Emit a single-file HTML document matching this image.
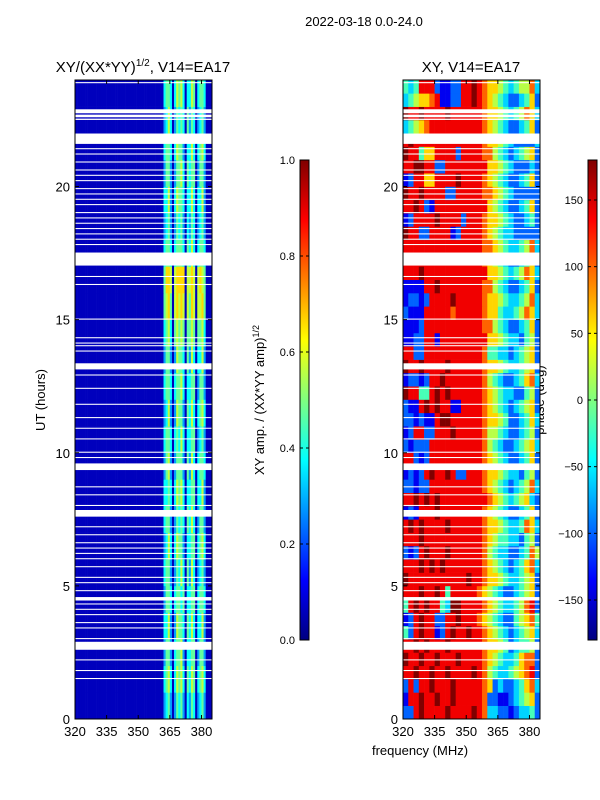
<!DOCTYPE html>
<html><head><meta charset="utf-8"><style>
body{margin:0;background:#fff;}
svg{display:block;font-family:"Liberation Sans",sans-serif;}
</style></head><body>
<svg id="fig" width="600" height="800" xmlns="http://www.w3.org/2000/svg">
<defs>
<linearGradient id="jet" x1="0" y1="1" x2="0" y2="0">
<stop offset="0" stop-color="#000080"/><stop offset="0.125" stop-color="#0000ff"/><stop offset="0.375" stop-color="#00ffff"/><stop offset="0.625" stop-color="#ffff00"/><stop offset="0.875" stop-color="#ff0000"/><stop offset="1" stop-color="#800000"/>
</linearGradient>
</defs>
<text x="364" y="26" font-size="13" text-anchor="middle">2022-03-18 0.0-24.0</text>
<text x="143" y="72" font-size="15" text-anchor="middle">XY/(XX*YY)<tspan font-size="10" dy="-6">1/2</tspan><tspan dy="6">, V14=EA17</tspan></text>
<text x="471" y="72" font-size="15" text-anchor="middle">XY, V14=EA17</text>
<text transform="translate(45,400) rotate(-90)" font-size="13" text-anchor="middle">UT (hours)</text>
<text x="420" y="755" font-size="13" text-anchor="middle">frequency (MHz)</text>
<text transform="translate(264,400) rotate(-90)" font-size="13" text-anchor="middle">XY amp. / (XX*YY amp)<tspan font-size="9" dy="-5">1/2</tspan></text>
<text transform="translate(544,400) rotate(-90)" font-size="13" text-anchor="middle">phase (deg)</text>
<g id="g"></g>
</svg>
<script>
const xTicks=[320,335,350,365,380];
const yTicks=[0,5,10,15,20];
const ampTicks=[0.0,0.2,0.4,0.6,0.8,1.0];
const phaseTicks=[-150,-100,-50,0,50,100,150];
const gaps=[[23.88,23.92],[22.75,22.9],[22.6,22.7],[22.5,22.55],[21.6,21.99],[21.4,21.44],[21.2,21.24],[20.9,20.94],[20.6,20.64],[20.4,20.44],[20.2,20.24],[19.9,19.94],[19.7,19.74],[19.5,19.54],[19.3,19.34],[19.0,19.04],[18.8,18.84],[18.6,18.64],[18.4,18.44],[18.2,18.24],[18.0,18.04],[17.8,17.84],[17.03,17.52],[16.6,16.64],[16.3,16.34],[15.0,15.04],[14.3,14.34],[14.1,14.14],[14.0,14.04],[13.8,13.84],[13.13,13.36],[12.9,12.94],[12.4,12.44],[11.8,11.84],[11.3,11.34],[10.9,10.94],[10.5,10.54],[10.0,10.04],[9.8,9.84],[9.35,9.6],[8.7,8.74],[8.4,8.44],[8.0,8.04],[7.6,7.85],[7.2,7.24],[6.9,6.94],[6.6,6.64],[6.4,6.44],[6.2,6.24],[6.0,6.04],[5.7,5.74],[5.3,5.34],[5.1,5.14],[4.8,4.84],[4.45,4.58],[4.3,4.34],[4.1,4.14],[3.9,3.94],[3.6,3.64],[3.4,3.44],[3.0,3.04],[2.6,2.9],[2.2,2.24],[1.8,1.84],[1.5,1.54]];
const P="11111111111111111111"+"11111111111111111111"+"11";
const ampRows=[
P+"34531354531435413453111",P+"45641465641546514564111",P+"35531455631445513553111",P+"44631365541546414463111",
P+"35541455451445514554111",P+"45531354641536413453111",P+"34641465531445514564111",P+"45531354541546413553111",
P+"44541465641445514463111",P+"35631355531536414554111",P+"45541454641445513453111",P+"34631365531546414564111",
P+"45541455641445513553111",P+"35531365541536414463111",P+"45641565651556515564111",P+"56751676761657616675111",
P+"57761677771667616765111",P+"45541455541546414554111",P+"34531354531435413453111",P+"44631465541446414463111",
P+"35531355641545513553111",P+"45541465531446414564111",P+"34641354541535413453111",P+"45541465641446514554111"];
const phaseRows=[
"22898888988889873322123342","18898898898888872211234562","28288988898888876232234673","88988988988889875433456782",
"98898898889888876543346772","88989888988888876654234452","42898812898898876543234563","12898822889888765432245674",
"48989884399888876543345782","88898898488888765432234562","98888888888898876654334562","88898989888888876543234673",
"21289888988888875433223475","88898888888888876544332452","89898888988888876654334763","12188898888888876543223462",
"88989898888888887654345632","22122888888888876543234573","12128988982288876654332452","88212888888888876543223462",
"21222888888888875432234563","12882288898888875543223452","22121189988888876654223463","21189898811888876543234562",
"98844898988888876543322452","12212889888888875432234673","98898888988888876654334562","88228888888888874433234562",
"11228818888888886654332452","11128888888888877543223462","21118888878888876643345763","12212888898888876654334573",
"11118898888888877543223462","88898888888888886654345763","88888888888888876543223462","88888888888888877654334573",
"98822888812888876543322222","12888898888288876654322342","88982188888888886543223462","98898888228888877654322222",
"12886688889888876543223462","88998822888888886654322232","98846688882888877543234562","89888888888888876654322223",
"34567888888888876543223462","98898888988888876654345763","34566781122889876543223462","43488821122889876654345573"];
const xmin=320,xmax=385,tmin=0,tmax=24;
const NS="http://www.w3.org/2000/svg";
const g=document.getElementById('g');
function mk(t,a,parent){const e=document.createElementNS(NS,t);for(const k in a)e.setAttribute(k,a[k]);(parent||g).appendChild(e);return e;}
function jet(v){v=Math.max(0,Math.min(1,v));
 const r=Math.max(0,Math.min(1,Math.min(4*v-1.5,-4*v+4.5)));
 const gg=Math.max(0,Math.min(1,Math.min(4*v-0.5,-4*v+3.5)));
 const b=Math.max(0,Math.min(1,Math.min(4*v+0.5,-4*v+2.5)));
 return `rgb(${Math.round(r*255)},${Math.round(gg*255)},${Math.round(b*255)})`;}
function panel(x0,x1,y0,y1,rows,vmap,name){
 const xs=f=>x0+(f-xmin)/(xmax-xmin)*(x1-x0);
 const ys=t=>y1-(t-tmin)/(tmax-tmin)*(y1-y0);
 const grp=mk('g',{});
 
 
 const nr=rows.length;
 rows.forEach((row,i)=>{
  const n=row.length,t0=tmin+i*(tmax-tmin)/nr,t1=t0+(tmax-tmin)/nr;
  for(let j=0;j<n;j++){
   const f0=xmin+j*(xmax-xmin)/n,f1=f0+(xmax-xmin)/n;
   const r=mk('rect',{x:xs(f0),y:ys(t1),width:xs(f1)-xs(f0)+0.3,height:ys(t0)-ys(t1)+0.3,fill:jet(vmap(+row[j]))},grp);
   
   
  }});
 gaps.forEach(gp=>{const r=mk('rect',{x:x0,y:ys(gp[1]),width:x1-x0,height:Math.max(1,ys(gp[0])-ys(gp[1])),fill:'#fff'},grp);
  
  });
 const fr=mk('rect',{x:x0,y:y0,width:x1-x0,height:y1-y0,fill:'none',stroke:'#000','stroke-width':1});
 
 
 xTicks.forEach(v=>{const x=xs(v);
  mk('line',{x1:x,x2:x,y1:y1,y2:y1-4,stroke:'#000'});mk('line',{x1:x,x2:x,y1:y0,y2:y0+4,stroke:'#000'});
  const t=mk('text',{x:x,y:y1+17,'font-size':13,'text-anchor':'middle'});t.textContent=v;
  
  });
 yTicks.forEach(v=>{const y=ys(v);
  mk('line',{x1:x0,x2:x0+4,y1:y,y2:y,stroke:'#000'});mk('line',{x1:x1,x2:x1-4,y1:y,y2:y,stroke:'#000'});
  const t=mk('text',{x:x0-5,y:y+5,'font-size':13,'text-anchor':'end'});t.textContent=v;
  
  });
}
panel(75,212,80,719,ampRows,d=>d<=1?0.06:d/9*0.85,'amplitude-heatmap');
panel(403,540,80,719,phaseRows,d=>d/9,'phase-heatmap');
function cbar(x,vmin,vmax,ticks,fmt,name){
 const y0=160,y1=640;
 const r=mk('rect',{x:x,y:y0,width:9,height:y1-y0,fill:'url(#jet)',stroke:'#000','stroke-width':1});
 
 
 ticks.forEach(v=>{const y=y1-(v-vmin)/(vmax-vmin)*(y1-y0);
  mk('line',{x1:x,x2:x+3,y1:y,y2:y,stroke:'#000'});mk('line',{x1:x+9,x2:x+6,y1:y,y2:y,stroke:'#000'});
  const t=mk('text',{x:x-5,y:y+4,'font-size':11,'text-anchor':'end'});t.textContent=fmt(v);
  
  });
}
cbar(300,0,1,ampTicks,v=>v.toFixed(1),'amp-colorbar');
cbar(588,-180,180,phaseTicks,v=>v<0?'\u2212'+(-v):''+v,'phase-colorbar');
</script>
</body></html>
